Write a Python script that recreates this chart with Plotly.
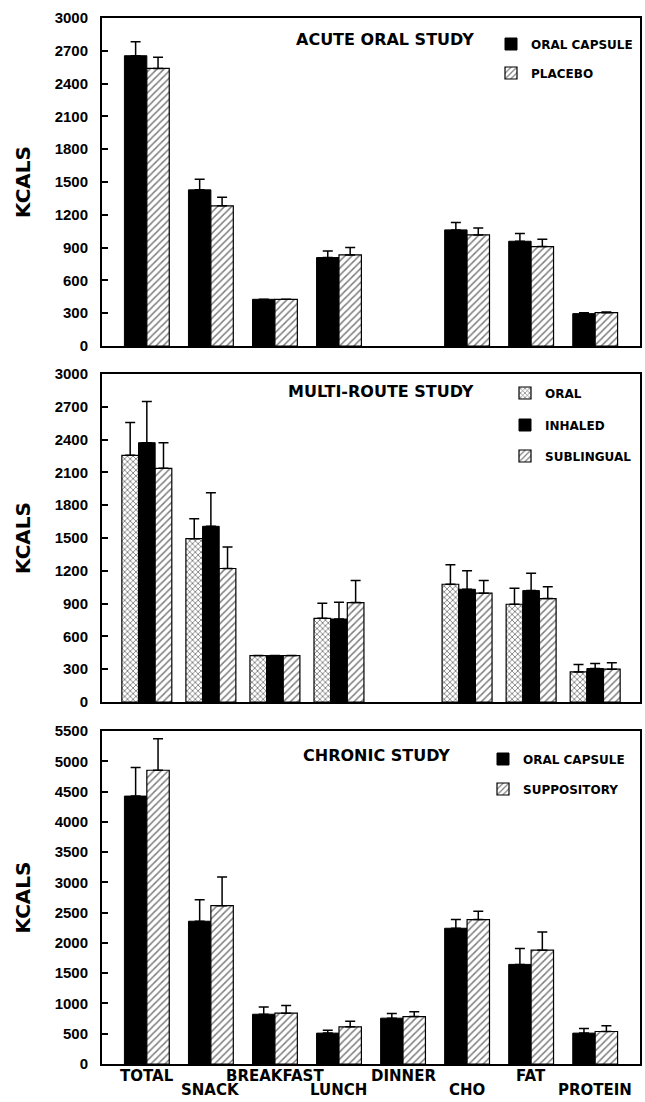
import plotly.graph_objects as go

# ---------------- data ----------------
categories = ["TOTAL", "SNACK", "BREAKFAST", "LUNCH", "DINNER", "CHO", "FAT", "PROTEIN"]

acute_oral_capsule = [2655, 1428, 427, 809, None, 1062, 958, 296]
acute_oral_capsule_se = [128, 98, 0, 61, None, 67, 70, 9]
acute_placebo = [2539, 1282, 427, 833, None, 1016, 909, 305]
acute_placebo_se = [101, 79, 0, 67, None, 64, 68, 6]

multi_oral = [2256, 1494, 425, 765, None, 1077, 894, 275]
multi_oral_se = [300, 183, 0, 138, None, 178, 147, 68]
multi_inhaled = [2372, 1607, 425, 759, None, 1031, 1019, 306]
multi_inhaled_se = [377, 306, 0, 153, None, 169, 159, 46]
multi_sublingual = [2137, 1221, 425, 909, None, 995, 946, 300]
multi_sublingual_se = [235, 196, 0, 202, None, 116, 107, 58]

chronic_oral_capsule = [4425, 2358, 822, 510, 757, 2242, 1645, 510]
chronic_oral_capsule_se = [471, 356, 121, 49, 76, 143, 263, 77]
chronic_suppository = [4852, 2615, 839, 614, 784, 2385, 1880, 537]
chronic_suppository_se = [521, 472, 126, 93, 77, 137, 302, 93]

ticks_3000 = [0, 300, 600, 900, 1200, 1500, 1800, 2100, 2400, 2700, 3000]
ticks_5500 = [0, 500, 1000, 1500, 2000, 2500, 3000, 3500, 4000, 4500, 5000, 5500]

panel_titles = ["ACUTE ORAL STUDY", "MULTI-ROUTE STUDY", "CHRONIC STUDY"]

# ---------------- styling helpers ----------------
W, H = 645, 1102
FONT = "Liberation Sans, Arial, Helvetica, sans-serif"
WIDE = "DejaVu Sans, Liberation Sans, Arial, sans-serif"


def py(px):
    return 1 - px / H


def px_x(px):
    return px / W


SOLID = dict(color="black", line=dict(color="black", width=1))
HATCH = dict(color="white", line=dict(color="black", width=1.2),
             pattern=dict(shape="/", fgcolor="black", bgcolor="white", size=5, solidity=0.3))
CROSS = dict(color="white", line=dict(color="black", width=1.2),
             pattern=dict(shape="x", fgcolor="black", bgcolor="white", size=4, solidity=0.4))


def err(se):
    return dict(type="data", symmetric=False, array=se, arrayminus=[0] * len(se),
                color="black", thickness=1.5, width=5)


fig = go.Figure()


def add_bar(vals, se, name, marker, ax, width, offset, legend):
    fig.add_trace(go.Bar(
        x=categories, y=vals, name=name, marker=marker,
        error_y=err(se), width=width, offset=offset,
        xaxis="x" + ax, yaxis="y" + ax, legend=legend, showlegend=True,
    ))


# top panel
add_bar(acute_oral_capsule, acute_oral_capsule_se, "ORAL CAPSULE", SOLID, "", 0.35, -0.35, "legend")
add_bar(acute_placebo, acute_placebo_se, "PLACEBO", HATCH, "", 0.35, 0.0, "legend2")
# middle panel
add_bar(multi_oral, multi_oral_se, "ORAL", CROSS, "2", 0.26, -0.39, "legend3")
add_bar(multi_inhaled, multi_inhaled_se, "INHALED", SOLID, "2", 0.26, -0.13, "legend4")
add_bar(multi_sublingual, multi_sublingual_se, "SUBLINGUAL", HATCH, "2", 0.26, 0.13, "legend5")
# bottom panel
add_bar(chronic_oral_capsule, chronic_oral_capsule_se, "ORAL CAPSULE", SOLID, "3", 0.35, -0.35, "legend6")
add_bar(chronic_suppository, chronic_suppository_se, "SUPPOSITORY", HATCH, "3", 0.35, 0.0, "legend7")

xdom = [px_x(102), px_x(640)]
ydoms = [[py(346), py(18)], [py(702), py(374)], [py(1064), py(731)]]

layout = dict(
    width=W, height=H, margin=dict(l=0, r=0, t=0, b=0),
    paper_bgcolor="white", plot_bgcolor="white",
    barmode="overlay",
    font=dict(family=FONT, color="black", size=14),
)

axis_names = ["", "2", "3"]
for i, a in enumerate(axis_names):
    layout["xaxis" + a] = dict(
        domain=xdom, anchor="y" + a, type="category", categoryorder="array",
        categoryarray=categories, range=[-0.7, 7.7], showticklabels=False, ticks="",
        showline=True, linewidth=2, linecolor="black", mirror=True,
        showgrid=False, zeroline=False, fixedrange=True,
    )
    tv = ticks_5500 if i == 2 else ticks_3000
    layout["yaxis" + a] = dict(
        domain=ydoms[i], anchor="x" + a, range=[0, tv[-1]], tickvals=tv,
        ticktext=[str(v) for v in tv], ticks="inside", ticklen=6, tickwidth=1.5,
        tickcolor="black", showline=True, linewidth=2, linecolor="black", mirror=True,
        showgrid=False, zeroline=False, automargin=False, ticklabelstandoff=9,
        tickfont=dict(family=FONT, size=15, weight="bold"),
        title=dict(text="KCALS", font=dict(family=WIDE, size=20, weight="bold"), standoff=19),
    )

legend_specs = [
    ("legend", 531, 44), ("legend2", 531, 73),
    ("legend3", 545, 393), ("legend4", 545, 425), ("legend5", 545, 456),
    ("legend6", 523, 759), ("legend7", 523, 789),
]
for key, tx, ty in legend_specs:
    layout[key] = dict(
        x=px_x(tx - 40), y=py(ty), xanchor="left", yanchor="middle",
        bgcolor="rgba(0,0,0,0)", borderwidth=0,
        font=dict(family=WIDE, size=12, weight="bold"),
    )

annotations = []
title_pos = [(476, 40), (476, 391), (452, 755)]
for t, (tx, ty) in zip(panel_titles, title_pos):
    annotations.append(dict(text=t, x=px_x(tx), y=py(ty), xref="paper", yref="paper",
                            xanchor="right", yanchor="middle", showarrow=False,
                            font=dict(family=WIDE, size=16, weight="bold")))
for i, c in enumerate(categories):
    annotations.append(dict(text=c, x=c, xref="x3", y=py(1076 if i % 2 == 0 else 1090),
                            yref="paper", xanchor="center", yanchor="middle", showarrow=False,
                            font=dict(family=WIDE, size=15, weight="bold")))
layout["annotations"] = annotations

fig.update_layout(**layout)
fig.write_html("out.html", config={"displayModeBar": False},
               post_script="document.body.style.margin='0';document.body.style.overflow='hidden';")
